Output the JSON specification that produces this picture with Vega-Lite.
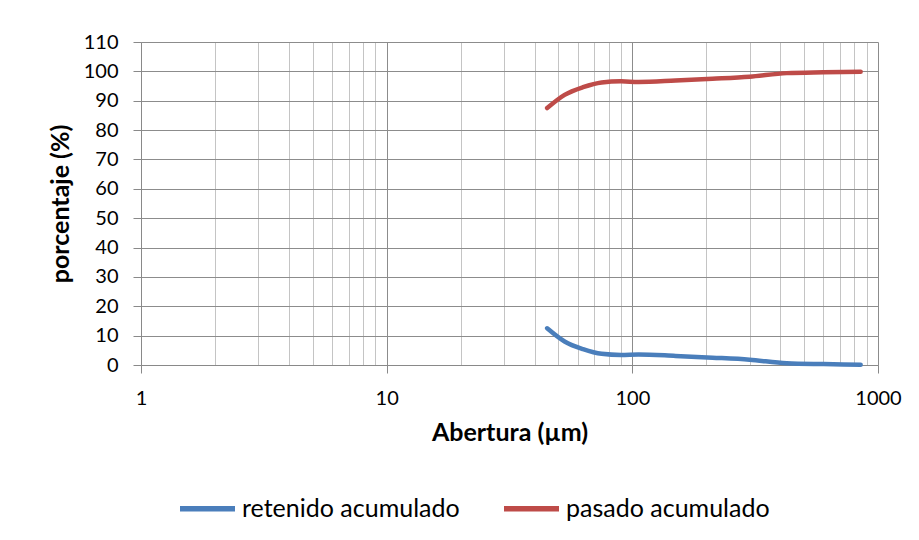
{
  "$schema": "https://vega.github.io/schema/vega-lite/v6.json",
  "width": 737,
  "height": 323,
  "autosize": "none",
  "padding": {"left": 141, "top": 42, "right": 41, "bottom": 175},
  "background": "white",
  "config": {"view": {"stroke": null}, "font": "Lato"},
  "data": {"values": [
    {"abertura": 45, "serie": "retenido acumulado", "porcentaje": 12.5},
    {"abertura": 53, "serie": "retenido acumulado", "porcentaje": 8.0},
    {"abertura": 63, "serie": "retenido acumulado", "porcentaje": 5.4},
    {"abertura": 75, "serie": "retenido acumulado", "porcentaje": 3.8},
    {"abertura": 90, "serie": "retenido acumulado", "porcentaje": 3.4},
    {"abertura": 106, "serie": "retenido acumulado", "porcentaje": 3.6},
    {"abertura": 150, "serie": "retenido acumulado", "porcentaje": 3.1},
    {"abertura": 212, "serie": "retenido acumulado", "porcentaje": 2.5},
    {"abertura": 300, "serie": "retenido acumulado", "porcentaje": 1.8},
    {"abertura": 425, "serie": "retenido acumulado", "porcentaje": 0.6},
    {"abertura": 600, "serie": "retenido acumulado", "porcentaje": 0.3},
    {"abertura": 850, "serie": "retenido acumulado", "porcentaje": 0.1},
    {"abertura": 45, "serie": "pasado acumulado", "porcentaje": 87.5},
    {"abertura": 53, "serie": "pasado acumulado", "porcentaje": 92.0},
    {"abertura": 63, "serie": "pasado acumulado", "porcentaje": 94.6},
    {"abertura": 75, "serie": "pasado acumulado", "porcentaje": 96.2},
    {"abertura": 90, "serie": "pasado acumulado", "porcentaje": 96.6},
    {"abertura": 106, "serie": "pasado acumulado", "porcentaje": 96.4},
    {"abertura": 150, "serie": "pasado acumulado", "porcentaje": 96.9},
    {"abertura": 212, "serie": "pasado acumulado", "porcentaje": 97.5},
    {"abertura": 300, "serie": "pasado acumulado", "porcentaje": 98.2},
    {"abertura": 425, "serie": "pasado acumulado", "porcentaje": 99.4},
    {"abertura": 600, "serie": "pasado acumulado", "porcentaje": 99.7},
    {"abertura": 850, "serie": "pasado acumulado", "porcentaje": 99.9}
  ]},
  "mark": {"type": "line", "interpolate": "monotone", "strokeWidth": 4.5, "strokeCap": "round", "strokeJoin": "round"},
  "encoding": {
    "x": {
      "field": "abertura",
      "type": "quantitative",
      "scale": {"type": "log", "domain": [1, 1000], "nice": false},
      "axis": {
        "title": "Abertura (µm)",
        "values": [1,2,3,4,5,6,7,8,9,10,20,30,40,50,60,70,80,90,100,200,300,400,500,600,700,800,900,1000],
        "format": "d",
        "labelExpr": "indexof([1,10,100,1000], datum.value) >= 0 ? datum.label : ''",
        "labelFlush": false,
        "labelOverlap": false,
        "labelFont": "Lato",
        "labelFontSize": 20,
        "labelColor": "#000000",
        "labelPadding": 15,
        "tickSize": {"condition": {"test": "indexof([1,10,100,1000], datum.value) >= 0", "value": 8}, "value": 0},
        "tickColor": "#898989",
        "domainColor": "#898989",
        "grid": true,
        "gridColor": {"condition": {"test": "indexof([1,10,100,1000], datum.value) >= 0", "value": "#8C8C8C"}, "value": "#C4C4C4"},
        "gridWidth": 1,
        "titleFont": "Lato",
        "titleFontSize": 25,
        "titleFontWeight": "bold",
        "titleColor": "#000000",
        "titlePadding": 12
      }
    },
    "y": {
      "field": "porcentaje",
      "type": "quantitative",
      "scale": {"domain": [0, 110], "nice": false, "zero": true},
      "axis": {
        "title": "porcentaje (%)",
        "values": [0,10,20,30,40,50,60,70,80,90,100,110],
        "labelFlush": false,
        "labelOverlap": false,
        "labelFont": "Lato",
        "labelFontSize": 20,
        "labelColor": "#000000",
        "labelPadding": 15,
        "tickSize": 8,
        "tickColor": "#898989",
        "domainColor": "#898989",
        "grid": true,
        "gridColor": "#8C8C8C",
        "gridWidth": 1,
        "titleFont": "Lato",
        "titleFontSize": 25,
        "titleFontWeight": "bold",
        "titleColor": "#000000",
        "titlePadding": 10
      }
    },
    "color": {
      "field": "serie",
      "type": "nominal",
      "scale": {"domain": ["retenido acumulado", "pasado acumulado"], "range": ["#4A7EBB", "#BE4B48"]},
      "legend": {
        "title": null,
        "orient": "none",
        "direction": "horizontal",
        "legendX": 36,
        "legendY": 436,
        "padding": 0,
        "symbolType": "stroke",
        "symbolSize": 3025,
        "symbolStrokeWidth": 5.5,
        "labelFont": "Lato",
        "labelFontSize": 25,
        "labelColor": "#000000",
        "labelOffset": 4,
        "columnPadding": 33,
        "labelLimit": 400
      }
    }
  }
}
